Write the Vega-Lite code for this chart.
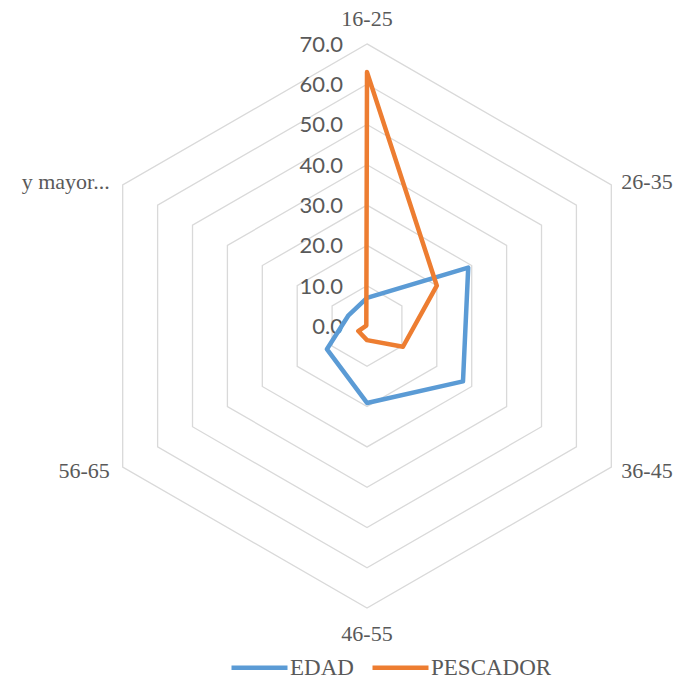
{
  "$schema": "https://vega.github.io/schema/vega-lite/v6.json",
  "width": 678,
  "height": 681,
  "autosize": {"type": "none"},
  "padding": 0,
  "background": "white",
  "config": {"view": {"stroke": null}},
  "datasets": {
    "series": [
      {"grupo": "16-25", "i": 0, "EDAD": 7, "PESCADOR": 63},
      {"grupo": "26-35", "i": 1, "EDAD": 29, "PESCADOR": 20},
      {"grupo": "36-45", "i": 2, "EDAD": 27.5, "PESCADOR": 10.3},
      {"grupo": "46-55", "i": 3, "EDAD": 19.1, "PESCADOR": 3.5},
      {"grupo": "56-65", "i": 4, "EDAD": 11.5, "PESCADOR": 2.5},
      {"grupo": "y mayor...", "i": 5, "EDAD": 5.3, "PESCADOR": 0.2}
    ],
    "rings": [
      {"level": 10, "i": [0, 1, 2, 3, 4, 5]},
      {"level": 20, "i": [0, 1, 2, 3, 4, 5]},
      {"level": 30, "i": [0, 1, 2, 3, 4, 5]},
      {"level": 40, "i": [0, 1, 2, 3, 4, 5]},
      {"level": 50, "i": [0, 1, 2, 3, 4, 5]},
      {"level": 60, "i": [0, 1, 2, 3, 4, 5]},
      {"level": 70, "i": [0, 1, 2, 3, 4, 5]}
    ],
    "ticks": [
      {"v": 0}, {"v": 10}, {"v": 20}, {"v": 30}, {"v": 40}, {"v": 50}, {"v": 60}, {"v": 70}
    ]
  },
  "layer": [
    {
      "data": {"name": "rings"},
      "transform": [
        {"flatten": ["i"]},
        {"calculate": "datum.level * sin(datum.i * PI / 3)", "as": "x"},
        {"calculate": "datum.level * cos(datum.i * PI / 3)", "as": "y"}
      ],
      "mark": {"type": "line", "interpolate": "linear-closed", "stroke": "#D9D9D9", "strokeWidth": 1.3},
      "encoding": {
        "x": {"field": "x", "type": "quantitative", "scale": {"domain": [-91.07, 77.17], "nice": false, "zero": false}, "axis": null},
        "y": {"field": "y", "type": "quantitative", "scale": {"domain": [-88.09, 80.89], "nice": false, "zero": false}, "axis": null},
        "detail": {"field": "level"},
        "order": {"field": "i"}
      }
    },
    {
      "data": {"name": "ticks"},
      "transform": [{"calculate": "0", "as": "x"}],
      "mark": {"type": "text", "align": "right", "baseline": "middle", "dx": -24, "dy": 1, "font": "Lato", "fontSize": 22, "fill": "#595959"},
      "encoding": {
        "x": {"field": "x", "type": "quantitative"},
        "y": {"field": "v", "type": "quantitative"},
        "text": {"field": "v", "type": "quantitative", "format": ".1f"}
      }
    },
    {
      "data": {"name": "series"},
      "transform": [
        {"filter": "datum.i == 0"},
        {"calculate": "0", "as": "x"},
        {"calculate": "70", "as": "y"}
      ],
      "mark": {"type": "text", "align": "center", "baseline": "middle", "dy": -25, "font": "Liberation Serif", "fontSize": 22, "fill": "#595959"},
      "encoding": {
        "x": {"field": "x", "type": "quantitative"},
        "y": {"field": "y", "type": "quantitative"},
        "text": {"field": "grupo"}
      }
    },
    {
      "data": {"name": "series"},
      "transform": [
        {"filter": "datum.i == 3"},
        {"calculate": "0", "as": "x"},
        {"calculate": "-70", "as": "y"}
      ],
      "mark": {"type": "text", "align": "center", "baseline": "middle", "dy": 26, "font": "Liberation Serif", "fontSize": 22, "fill": "#595959"},
      "encoding": {
        "x": {"field": "x", "type": "quantitative"},
        "y": {"field": "y", "type": "quantitative"},
        "text": {"field": "grupo"}
      }
    },
    {
      "data": {"name": "series"},
      "transform": [
        {"filter": "datum.i == 1"},
        {"calculate": "70 * sin(datum.i * PI / 3)", "as": "x"},
        {"calculate": "70 * cos(datum.i * PI / 3)", "as": "y"}
      ],
      "mark": {"type": "text", "align": "left", "baseline": "middle", "dx": 10, "dy": -3, "font": "Liberation Serif", "fontSize": 22, "fill": "#595959"},
      "encoding": {
        "x": {"field": "x", "type": "quantitative"},
        "y": {"field": "y", "type": "quantitative"},
        "text": {"field": "grupo"}
      }
    },
    {
      "data": {"name": "series"},
      "transform": [
        {"filter": "datum.i == 2"},
        {"calculate": "70 * sin(datum.i * PI / 3)", "as": "x"},
        {"calculate": "70 * cos(datum.i * PI / 3)", "as": "y"}
      ],
      "mark": {"type": "text", "align": "left", "baseline": "middle", "dx": 10, "dy": 4, "font": "Liberation Serif", "fontSize": 22, "fill": "#595959"},
      "encoding": {
        "x": {"field": "x", "type": "quantitative"},
        "y": {"field": "y", "type": "quantitative"},
        "text": {"field": "grupo"}
      }
    },
    {
      "data": {"name": "series"},
      "transform": [
        {"filter": "datum.i == 4"},
        {"calculate": "70 * sin(datum.i * PI / 3)", "as": "x"},
        {"calculate": "70 * cos(datum.i * PI / 3)", "as": "y"}
      ],
      "mark": {"type": "text", "align": "right", "baseline": "middle", "dx": -13, "dy": 4, "font": "Liberation Serif", "fontSize": 22, "fill": "#595959"},
      "encoding": {
        "x": {"field": "x", "type": "quantitative"},
        "y": {"field": "y", "type": "quantitative"},
        "text": {"field": "grupo"}
      }
    },
    {
      "data": {"name": "series"},
      "transform": [
        {"filter": "datum.i == 5"},
        {"calculate": "70 * sin(datum.i * PI / 3)", "as": "x"},
        {"calculate": "70 * cos(datum.i * PI / 3)", "as": "y"}
      ],
      "mark": {"type": "text", "align": "right", "baseline": "middle", "dx": -13, "dy": -3, "font": "Liberation Serif", "fontSize": 22, "fill": "#595959"},
      "encoding": {
        "x": {"field": "x", "type": "quantitative"},
        "y": {"field": "y", "type": "quantitative"},
        "text": {"field": "grupo"}
      }
    },
    {
      "data": {"name": "series"},
      "transform": [
        {"fold": ["EDAD", "PESCADOR"], "as": ["serie", "valor"]},
        {"calculate": "datum.valor * sin(datum.i * PI / 3)", "as": "x"},
        {"calculate": "datum.valor * cos(datum.i * PI / 3)", "as": "y"}
      ],
      "mark": {"type": "line", "interpolate": "linear-closed", "strokeWidth": 4.5, "strokeJoin": "round"},
      "encoding": {
        "x": {"field": "x", "type": "quantitative"},
        "y": {"field": "y", "type": "quantitative"},
        "order": {"field": "i"},
        "color": {
          "field": "serie",
          "type": "nominal",
          "scale": {"domain": ["EDAD", "PESCADOR"], "range": ["#5B9BD5", "#ED7D31"]},
          "legend": {
            "orient": "none",
            "legendX": 229,
            "legendY": 637,
            "direction": "horizontal",
            "title": null,
            "symbolType": "stroke",
            "symbolSize": 3136,
            "symbolStrokeWidth": 4.5,
            "labelFont": "Liberation Serif",
            "labelFontSize": 23,
            "labelColor": "#595959",
            "labelOffset": 0,
            "columnPadding": 9,
            "padding": 0
          }
        }
      }
    }
  ]
}
